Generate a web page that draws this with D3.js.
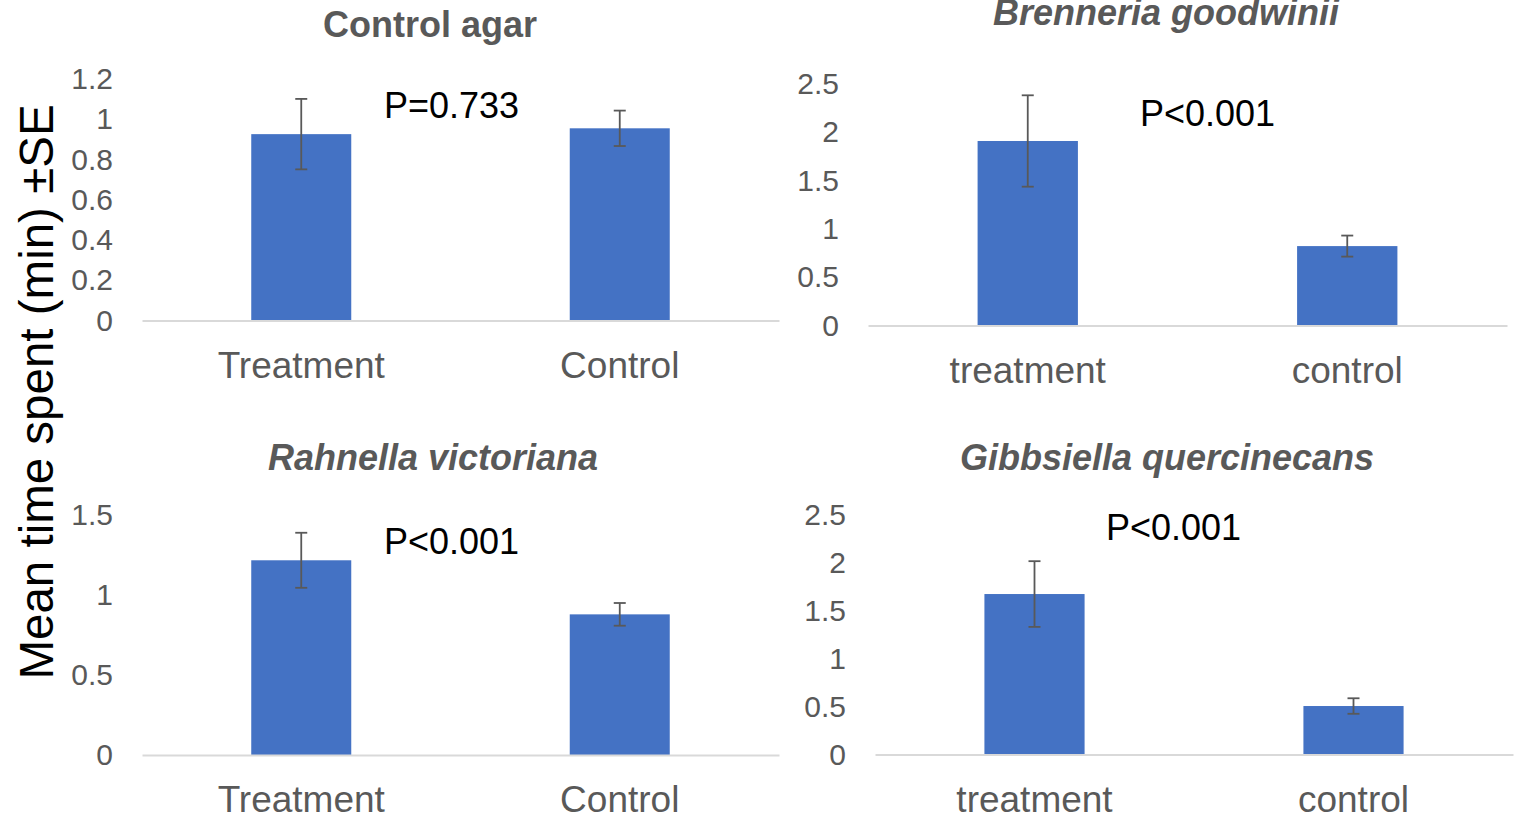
<!DOCTYPE html>
<html>
<head>
<meta charset="utf-8">
<script src="https://cdn.jsdelivr.net/npm/d3@7/dist/d3.min.js"></script>
<style>
  html, body { margin: 0; padding: 0; background: #fff; }
  svg { display: block; font-family: "Liberation Sans", Arial, sans-serif; }
</style>
</head>
<body>
<svg id="chart" width="1524" height="816"></svg>
<script>
// Mean time spent (min) with standard errors, four assay conditions
const titles = ["Control agar", "Brenneria goodwinii", "Rahnella victoriana", "Gibbsiella quercinecans"];
const italicTitle = [false, true, true, true];
const categoriesUpper = ["Treatment", "Control"];
const categoriesLower = ["treatment", "control"];
const panelCategories = [categoriesUpper, categoriesLower, categoriesUpper, categoriesLower];

const meansControlAgar = [0.926, 0.955];
const seControlAgar    = [0.175, 0.088];
const meansBrenneria   = [1.91, 0.822];
const seBrenneria      = [0.473, 0.109];
const meansRahnella    = [1.217, 0.879];
const seRahnella       = [0.172, 0.071];
const meansGibbsiella  = [1.675, 0.506];
const seGibbsiella     = [0.343, 0.081];

const pLabels = ["P=0.733", "P<0.001", "P<0.001", "P<0.001"];

const yMax = [1.2, 2.5, 1.5, 2.5];
const yTicksControlAgar = [0, 0.2, 0.4, 0.6, 0.8, 1, 1.2];
const yTicksBrenneria   = [0, 0.5, 1, 1.5, 2, 2.5];
const yTicksRahnella    = [0, 0.5, 1, 1.5];
const yTicksGibbsiella  = [0, 0.5, 1, 1.5, 2, 2.5];

const allMeans = [meansControlAgar, meansBrenneria, meansRahnella, meansGibbsiella];
const allSE = [seControlAgar, seBrenneria, seRahnella, seGibbsiella];
const allTicks = [yTicksControlAgar, yTicksBrenneria, yTicksRahnella, yTicksGibbsiella];

// Panel geometry: plot-area extents in page pixels
const layout = [
  { x0: 142, x1: 779,  yBase: 320.5, yTop: 79,  titleX: 430,  titleY: 37,  pX: 384,  pY: 118 },
  { x0: 868, x1: 1507, yBase: 325.5, yTop: 84,  titleX: 1166, titleY: 25,  pX: 1140, pY: 126 },
  { x0: 142, x1: 779,  yBase: 755,   yTop: 515, titleX: 433,  titleY: 470, pX: 384,  pY: 554 },
  { x0: 875, x1: 1513, yBase: 754.5, yTop: 515, titleX: 1167, titleY: 470, pX: 1106, pY: 540 }
];

const barColor = "#4472C4";
const textGray = "#595959";
const axisGray = "#D9D9D9";

const svg = d3.select("#chart");

layout.forEach((L, i) => {
  const cats = panelCategories[i];
  const data = cats.map((c, j) => ({ cat: c, mean: allMeans[i][j], se: allSE[i][j] }));

  const x = d3.scaleBand().domain(cats).range([L.x0, L.x1]).paddingInner(0.686).paddingOuter(0.343);
  const y = d3.scaleLinear().domain([0, yMax[i]]).range([L.yBase, L.yTop]);

  const g = svg.append("g");

  // y axis labels only
  const yAxis = g.append("g")
    .attr("transform", `translate(${L.x0},0)`)
    .call(d3.axisLeft(y).tickValues(allTicks[i]).tickSize(0).tickPadding(29).tickFormat(d3.format("~g")));
  yAxis.select(".domain").remove();
  yAxis.selectAll("text")
    .attr("fill", textGray)
    .style("font-size", "30px")
    .style("font-family", '"Liberation Sans", Arial, sans-serif');

  // bars
  g.selectAll("rect.bar").data(data).join("rect")
    .attr("class", "bar")
    .attr("x", d => x(d.cat))
    .attr("width", x.bandwidth())
    .attr("y", d => y(d.mean))
    .attr("height", d => y(0) - y(d.mean))
    .attr("fill", barColor);

  // x axis baseline and category labels
  const xAxis = g.append("g")
    .attr("transform", `translate(0,${L.yBase})`)
    .call(d3.axisBottom(x).tickSize(0).tickSizeOuter(0).tickPadding(31));
  xAxis.select(".domain").attr("stroke", axisGray).attr("stroke-width", 2);
  xAxis.selectAll("text")
    .attr("fill", textGray)
    .style("font-size", "37px")
    .style("font-family", '"Liberation Sans", Arial, sans-serif');

  // error bars
  const eb = g.selectAll("g.err").data(data).join("g").attr("class", "err")
    .attr("stroke", "#595959").attr("stroke-width", 1.8);
  const cx = d => x(d.cat) + x.bandwidth() / 2;
  eb.append("line")
    .attr("x1", cx).attr("x2", cx)
    .attr("y1", d => y(d.mean + d.se)).attr("y2", d => y(d.mean - d.se));
  eb.append("line")
    .attr("x1", d => cx(d) - 6).attr("x2", d => cx(d) + 6)
    .attr("y1", d => y(d.mean + d.se)).attr("y2", d => y(d.mean + d.se));
  eb.append("line")
    .attr("x1", d => cx(d) - 6).attr("x2", d => cx(d) + 6)
    .attr("y1", d => y(d.mean - d.se)).attr("y2", d => y(d.mean - d.se));

  // panel title
  g.append("text")
    .attr("x", L.titleX).attr("y", L.titleY)
    .attr("text-anchor", "middle")
    .attr("fill", textGray)
    .style("font-size", "36px")
    .style("font-weight", "bold")
    .style("font-style", italicTitle[i] ? "italic" : "normal")
    .text(titles[i]);

  // significance annotation
  g.append("text")
    .attr("x", L.pX).attr("y", L.pY)
    .attr("fill", "#000")
    .style("font-size", "36px")
    .text(pLabels[i]);
});

// shared y-axis title
svg.append("text")
  .attr("transform", "translate(53,392) rotate(-90)")
  .attr("text-anchor", "middle")
  .attr("fill", "#000")
  .style("font-size", "47.5px")
  .text("Mean time spent (min) \u00B1SE");
</script>
</body>
</html>
